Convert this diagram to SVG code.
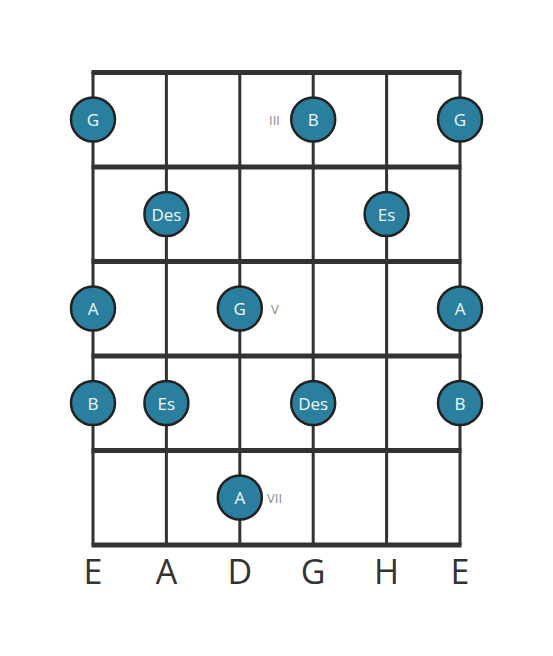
<svg xmlns="http://www.w3.org/2000/svg" width="553" height="656" viewBox="0 0 553 656">
<style>
.fret{stroke:#333;stroke-width:5;}
.str{stroke:#333;stroke-width:3;}
.dot{fill:#2a7f9e;stroke:#222;stroke-width:2.5;}
.nt{font-family:"Open Sans",sans-serif;font-size:17px;fill:#eef8f8;text-anchor:middle;dominant-baseline:central;}
.rn{font-family:"Open Sans",sans-serif;font-size:13px;fill:#888;dominant-baseline:central;}
.sl{font-family:"Open Sans",sans-serif;font-size:34px;fill:#333;text-anchor:middle;}
</style>
<rect width="553" height="656" fill="#fff"/>
<g id="grid">
<line class="str" x1="93" y1="72" x2="93" y2="545"/>
<line class="str" x1="166.4" y1="72" x2="166.4" y2="545"/>
<line class="str" x1="239.8" y1="72" x2="239.8" y2="545"/>
<line class="str" x1="313.2" y1="72" x2="313.2" y2="545"/>
<line class="str" x1="386.6" y1="72" x2="386.6" y2="545"/>
<line class="str" x1="460" y1="72" x2="460" y2="545"/>
<line class="fret" x1="91.5" y1="72.5" x2="461.5" y2="72.5"/>
<line class="fret" x1="91.5" y1="167" x2="461.5" y2="167"/>
<line class="fret" x1="91.5" y1="261.5" x2="461.5" y2="261.5"/>
<line class="fret" x1="91.5" y1="356" x2="461.5" y2="356"/>
<line class="fret" x1="91.5" y1="450.5" x2="461.5" y2="450.5"/>
<line class="fret" x1="91.5" y1="545" x2="461.5" y2="545"/>
</g>
<g id="n1"><circle class="dot" cx="93" cy="119.5" r="22"/><text class="nt" x="93" y="119.5">G</text></g>
<g id="n2"><circle class="dot" cx="313.2" cy="119.5" r="22"/><text class="nt" x="313.2" y="119.5">B</text></g>
<g id="n3"><circle class="dot" cx="460" cy="119.5" r="22"/><text class="nt" x="460" y="119.5">G</text></g>
<g id="n4"><circle class="dot" cx="166.4" cy="214" r="22"/><text class="nt" x="166.4" y="214">Des</text></g>
<g id="n5"><circle class="dot" cx="386.6" cy="214" r="22"/><text class="nt" x="386.6" y="214">Es</text></g>
<g id="n6"><circle class="dot" cx="93" cy="308.5" r="22"/><text class="nt" x="93" y="308.5">A</text></g>
<g id="n7"><circle class="dot" cx="239.8" cy="308.5" r="22"/><text class="nt" x="239.8" y="308.5">G</text></g>
<g id="n8"><circle class="dot" cx="460" cy="308.5" r="22"/><text class="nt" x="460" y="308.5">A</text></g>
<g id="n9"><circle class="dot" cx="93" cy="403" r="22"/><text class="nt" x="93" y="403">B</text></g>
<g id="n10"><circle class="dot" cx="166.4" cy="403" r="22"/><text class="nt" x="166.4" y="403">Es</text></g>
<g id="n11"><circle class="dot" cx="313.2" cy="403" r="22"/><text class="nt" x="313.2" y="403">Des</text></g>
<g id="n12"><circle class="dot" cx="460" cy="403" r="22"/><text class="nt" x="460" y="403">B</text></g>
<g id="n13"><circle class="dot" cx="239.8" cy="497.5" r="22"/><text class="nt" x="239.8" y="497.5">A</text></g>
<g id="labels">
<text class="rn" x="269" y="120">III</text>
<text class="rn" x="271" y="309">V</text>
<text class="rn" x="267" y="498">VII</text>
<text class="sl" x="93" y="584">E</text>
<text class="sl" x="166.4" y="584">A</text>
<text class="sl" x="239.8" y="584">D</text>
<text class="sl" x="313.2" y="584">G</text>
<text class="sl" x="386.6" y="584">H</text>
<text class="sl" x="460" y="584">E</text>
</g>
</svg>
